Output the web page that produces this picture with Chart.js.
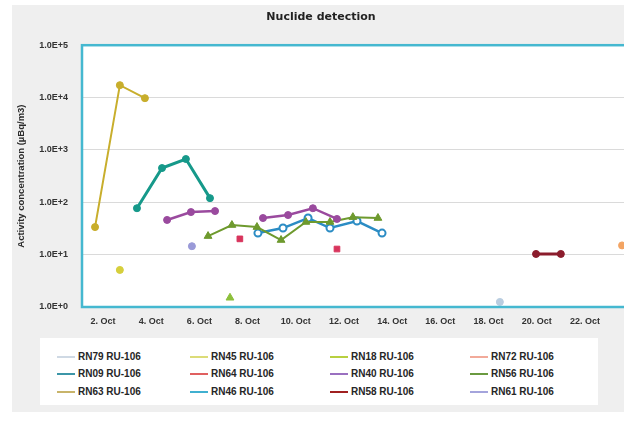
<!DOCTYPE html>
<html>
<head>
<meta charset="utf-8">
<script src="https://cdn.jsdelivr.net/npm/chart.js@4.4.1/dist/chart.umd.min.js"></script>
<style>
  html, body { margin: 0; padding: 0; background: #ffffff; width: 624px; height: 421px; overflow: hidden; }
  #panel { position: absolute; left: 12px; top: 5px; width: 640px; height: 407px; background: #efefef; }
  #plot { position: absolute; left: 0; top: 0; width: 618px; height: 330px; }
  #legend { position: absolute; left: 28px; top: 333px; width: 558px; height: 67px; background: #ffffff;
            font: bold 10px "Liberation Sans", Arial, sans-serif; color: #262626; }
  .item { position: absolute; display: flex; align-items: center; white-space: nowrap; }
  .swatch { width: 18px; height: 2px; margin-right: 3px; }
</style>
</head>
<body>
<div id="panel">
  <div id="plot"><canvas id="chart"></canvas></div>
  <div id="legend"></div>
</div>
<script>
// Station series: day of October and activity concentration (µBq/m3)
const seriesNames = [
  'RN79 RU-106', 'RN45 RU-106', 'RN18 RU-106', 'RN72 RU-106',
  'RN09 RU-106', 'RN64 RU-106', 'RN40 RU-106', 'RN56 RU-106',
  'RN63 RU-106', 'RN46 RU-106', 'RN58 RU-106', 'RN61 RU-106'
];

const rn79Days = [18.47];
const rn79Values = [1.25];
const rn45Days = [2.70];
const rn45Values = [5.1];
const rn18Days = [7.27];
const rn18Values = [1.5];
const rn72Days = [23.54];
const rn72Values = [15];
const rn09Days = [3.41, 4.45, 5.44, 6.44];
const rn09Values = [77, 450, 670, 120];
const rn64Days = [7.68, 11.71];
const rn64Values = [20, 12.8];
const rn40Days = [4.66, 5.65, 6.65, 7.60, 8.64, 9.68, 10.71, 11.71];
const rn40Values = [46, 65, 68, null, 50, 57, 77, 48];
const rn56Days = [6.36, 7.35, 8.39, 9.39, 10.42, 11.42, 12.37, 13.41];
const rn56Values = [22.6, 36.7, 33.6, 19, 42, 42, 52, 50];
const rn63Days = [1.67, 2.70, 3.74];
const rn63Values = [33.6, 17250, 9740];
const rn46Days = [8.43, 9.47, 10.51, 11.42, 12.54, 13.58];
const rn46Values = [25.8, 32.2, 50, 32.2, 43.8, 25.8];
const rn58Days = [19.97, 21.0];
const rn58Values = [10.3, 10.3];
const rn61Days = [5.69];
const rn61Values = [14.5];

const xTickDays = [2, 4, 6, 8, 10, 12, 14, 16, 18, 20, 22];
const yTickValues = [1, 10, 100, 1000, 10000, 100000];
const yTickLabels = ['1.0E+0', '1.0E+1', '1.0E+2', '1.0E+3', '1.0E+4', '1.0E+5'];

// Styling per series (legend order)
const lineColors = ['#b9cde0', '#d6cf3c', '#8cbf3a', '#f3a463', '#16998a', '#d8345c',
                    '#9a4a9e', '#6e9a2e', '#c8ae2c', '#2b8cc4', '#8b1c2c', '#9a9ad8'];
const legendColors = ['#cfd9e4', '#dcdc78', '#b8d040', '#f2aa9a', '#3c96a8', '#e06060',
                      '#9a70c0', '#6a9a40', '#c8b46a', '#40b0d0', '#a02020', '#a4a4dc'];

const pairs = (days, values) => days.map((d, i) => ({ x: d, y: values[i] }));
const seriesData = [
  pairs(rn79Days, rn79Values), pairs(rn45Days, rn45Values), pairs(rn18Days, rn18Values),
  pairs(rn72Days, rn72Values), pairs(rn09Days, rn09Values), pairs(rn64Days, rn64Values),
  pairs(rn40Days, rn40Values), pairs(rn56Days, rn56Values), pairs(rn63Days, rn63Values),
  pairs(rn46Days, rn46Values), pairs(rn58Days, rn58Values), pairs(rn61Days, rn61Values)
];
const markerStyles = ['circle', 'circle', 'triangle', 'circle', 'circle', 'rect',
                      'circle', 'triangle', 'circle', 'circle', 'circle', 'circle'];
const connected = [false, false, false, false, true, false, true, true, true, true, true, false];
const lineWidths = [2, 2, 2, 2, 3, 2, 2.5, 2, 2, 2.5, 3, 2];

const datasets = seriesNames.map((name, i) => ({
  label: name,
  data: seriesData[i],
  showLine: connected[i],
  borderColor: lineColors[i],
  backgroundColor: lineColors[i],
  borderWidth: lineWidths[i],
  pointStyle: markerStyles[i],
  pointRadius: markerStyles[i] === 'triangle' ? 4.5 : (markerStyles[i] === 'rect' ? 4 : 3.5),
  pointBackgroundColor: i === 9 ? '#ffffff' : lineColors[i],
  pointBorderColor: lineColors[i],
  pointBorderWidth: i === 9 ? 2 : 1,
  spanGaps: false,
  tension: 0
}));

// White plot background and cyan frame around the plotting area
const plotFrame = {
  id: 'plotFrame',
  beforeDraw(chart) {
    const { ctx, chartArea: a } = chart;
    ctx.save();
    ctx.fillStyle = '#ffffff';
    ctx.fillRect(a.left, a.top, a.right - a.left, a.bottom - a.top);
    ctx.restore();
  },
  afterDraw(chart) {
    const { ctx, chartArea: a } = chart;
    ctx.save();
    ctx.strokeStyle = '#45b8d0';
    ctx.lineWidth = 2.5;
    ctx.strokeRect(a.left, a.top, a.right - a.left, a.bottom - a.top);
    ctx.restore();
  }
};

const chart = new Chart(document.getElementById('chart'), {
  type: 'line',
  data: { datasets },
  plugins: [plotFrame],
  options: {
    responsive: true,
    maintainAspectRatio: false,
    animation: false,
    layout: { padding: 0, autoPadding: false },
    plugins: {
      legend: { display: false },
      tooltip: { enabled: false },
      title: {
        display: true,
        text: 'Nuclide detection',
        color: '#222222',
        font: { family: 'DejaVu Sans', size: 11, weight: 'bold' },
        padding: { top: 6, bottom: 21 }
      }
    },
    scales: {
      x: {
        type: 'linear',
        min: 1.129,
        max: 23.87,
        afterBuildTicks(scale) { scale.ticks = xTickDays.map(v => ({ value: v })); },
        afterFit(scale) { scale.height = 28; },
        grid: { display: false, drawTicks: false },
        border: { display: false },
        ticks: {
          autoSkip: false, maxRotation: 0, padding: 9, color: '#333333',
          font: { family: 'Liberation Sans', size: 9, weight: 'bold' },
          callback: v => v + '. Oct'
        }
      },
      y: {
        type: 'logarithmic',
        min: 1,
        max: 100000,
        afterBuildTicks(scale) { scale.ticks = yTickValues.map(v => ({ value: v })); },
        afterFit(scale) { scale.width = 70; },
        grid: { color: '#dadada', lineWidth: 1, drawTicks: false },
        border: { display: false },
        ticks: {
          padding: 14, color: '#333333',
          font: { family: 'Liberation Sans', size: 9, weight: 'bold' },
          callback: (v) => {
            const k = yTickValues.indexOf(v);
            return k >= 0 ? yTickLabels[k] : '';
          }
        },
        title: {
          display: true,
          text: 'Activity concentration (µBq/m3)',
          color: '#2b2b2b',
          font: { family: 'Liberation Sans', size: 9.5, weight: 'bold' },
          padding: { top: 4, bottom: 0 }
        }
      }
    }
  }
});

// Legend: four columns, three rows
const legendBox = document.getElementById('legend');
const colLeft = [17, 150, 290, 430];
const rowTop = [13, 30, 48];
chart.data.datasets.forEach((ds, i) => {
  const item = document.createElement('div');
  item.className = 'item';
  item.style.left = colLeft[i % 4] + 'px';
  item.style.top = rowTop[Math.floor(i / 4)] + 'px';
  const sw = document.createElement('span');
  sw.className = 'swatch';
  sw.style.background = legendColors[i];
  const tx = document.createElement('span');
  tx.textContent = ds.label;
  item.appendChild(sw);
  item.appendChild(tx);
  legendBox.appendChild(item);
});
</script>
</body>
</html>
